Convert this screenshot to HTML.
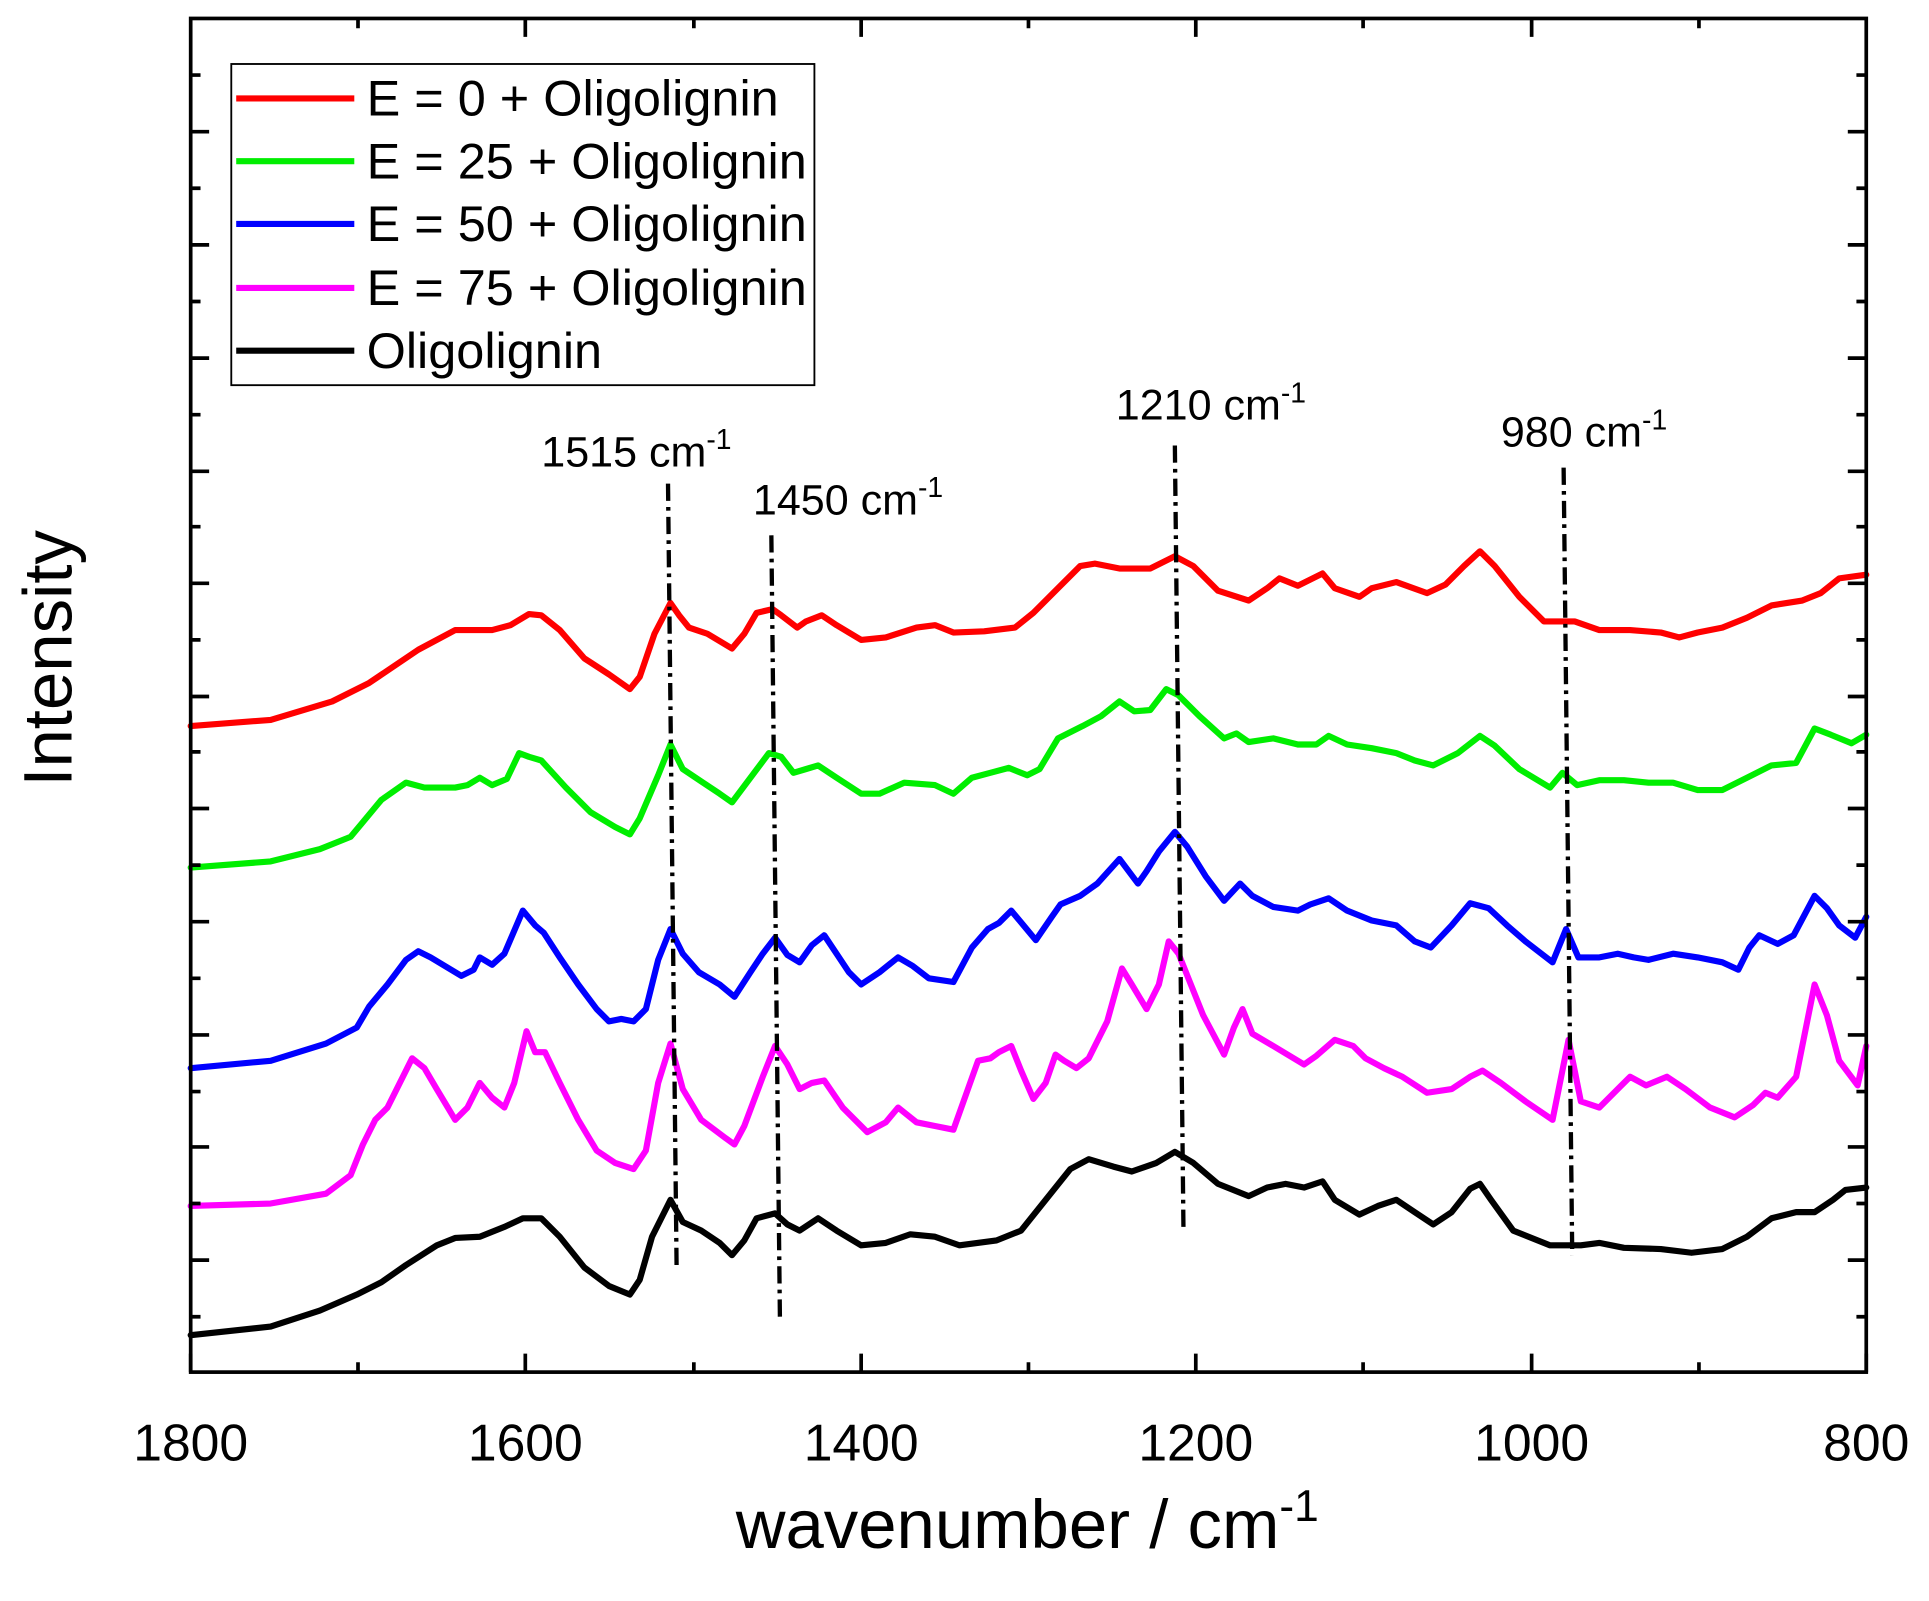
<!DOCTYPE html>
<html><head><meta charset="utf-8"><style>html,body{margin:0;padding:0;background:#fff}svg{display:block}</style></head>
<body>
<svg width="1929" height="1601" viewBox="0 0 1568 1301" preserveAspectRatio="none" xmlns="http://www.w3.org/2000/svg" font-family="'Liberation Sans', sans-serif">
<rect width="1568" height="1301" fill="#fff"/>
<g fill="none" stroke-width="5" stroke-linejoin="round" stroke-linecap="round">
<polyline stroke="#ff0000" points="155,590 220,585 270,570 300,555 340,528 370,512 400,512 415,508 430,499 440,500 455,512 475,535 495,548 512,560 520,550 532,515 545,490 552,500 560,510 575,515 595,527 605,515 615,498 628,495 635,500 648,510 655,505 668,500 680,508 700,520 720,518 745,510 760,508 775,514 800,513 825,510 840,498 860,478 878,460 890,458 910,462 935,462 955,452 970,460 990,480 1015,488 1030,478 1040,470 1055,476 1075,466 1085,478 1105,485 1115,478 1135,473 1160,482 1175,475 1190,460 1203,448 1215,460 1235,485 1255,505 1280,505 1300,512 1325,512 1350,514 1365,518 1380,514 1400,510 1420,502 1440,492 1465,488 1480,482 1495,470 1517,467"/>
<polyline stroke="#00ee00" points="155,705 220,700 260,690 285,680 295,668 310,650 330,636 345,640 370,640 380,638 390,632 400,638 412,633 422,612 430,615 440,618 460,640 480,660 500,672 512,678 520,665 535,630 545,605 555,625 570,635 585,645 595,652 610,632 625,612 635,615 645,628 655,625 665,622 680,632 700,645 715,645 735,636 760,638 775,645 790,632 805,628 820,624 835,630 845,625 860,600 880,590 895,582 910,570 922,578 935,577 948,560 958,565 975,582 995,600 1005,596 1015,603 1035,600 1055,605 1070,605 1080,598 1095,605 1115,608 1135,612 1150,618 1165,622 1185,612 1203,598 1215,606 1235,625 1260,640 1270,628 1282,638 1300,634 1320,634 1340,636 1360,636 1380,642 1400,642 1420,632 1440,622 1460,620 1475,592 1488,597 1505,604 1517,597"/>
<polyline stroke="#0000ff" points="155,868 220,862 265,848 290,835 300,818 315,800 330,780 340,773 350,778 375,793 385,788 390,778 400,784 410,775 425,740 435,752 442,758 455,778 470,800 485,820 495,830 505,828 515,830 525,820 535,780 545,755 555,775 568,790 585,800 597,810 610,790 620,775 630,762 640,776 650,782 660,768 670,760 680,775 690,790 700,800 715,790 730,778 742,785 755,795 775,798 790,770 803,755 812,750 822,740 832,752 842,764 855,745 862,735 878,728 892,718 910,698 925,718 932,708 942,692 955,676 965,688 980,712 995,732 1008,718 1018,728 1035,737 1055,740 1065,735 1080,730 1095,740 1115,748 1135,752 1150,765 1163,770 1180,752 1195,734 1210,738 1225,752 1240,765 1262,782 1273,755 1283,778 1300,778 1315,775 1328,778 1340,780 1360,775 1380,778 1400,782 1413,788 1422,770 1430,760 1445,767 1458,760 1475,728 1485,738 1495,752 1508,762 1517,745"/>
<polyline stroke="#ff00ff" points="155,980 220,978 265,970 285,955 295,930 305,910 315,900 325,880 335,860 345,868 355,885 370,910 380,900 390,880 400,892 410,900 418,880 428,838 435,855 443,855 455,880 470,910 485,935 500,945 515,950 525,935 535,880 545,848 555,885 570,910 590,925 597,930 605,915 620,875 630,850 640,865 650,885 660,880 670,878 685,900 705,920 720,912 730,900 745,912 760,915 775,918 785,890 795,862 805,860 812,855 822,850 830,870 840,893 850,880 858,857 865,862 875,868 885,860 900,830 912,787 920,800 932,820 942,800 950,765 958,775 968,800 978,825 995,857 1003,835 1010,820 1018,840 1035,850 1060,865 1070,858 1085,845 1100,850 1110,860 1125,868 1140,875 1160,888 1180,885 1195,875 1205,870 1220,880 1240,895 1262,910 1275,845 1285,895 1300,900 1315,885 1325,875 1338,882 1355,875 1370,885 1390,900 1410,908 1425,898 1435,888 1445,892 1460,875 1475,800 1485,825 1495,862 1510,882 1517,850"/>
<polyline stroke="#000000" points="155,1085 220,1078 260,1065 290,1052 310,1042 330,1028 355,1012 370,1006 390,1005 410,997 425,990 440,990 455,1005 475,1030 495,1045 512,1052 520,1040 530,1005 545,975 555,993 570,1000 585,1010 595,1020 605,1008 615,990 630,986 640,995 650,1000 665,990 680,1000 700,1012 720,1010 740,1003 760,1005 780,1012 810,1008 830,1000 850,975 870,950 885,942 905,948 920,952 940,945 955,936 970,945 990,962 1015,972 1030,965 1045,962 1060,965 1075,960 1085,975 1105,987 1120,980 1135,975 1150,985 1165,995 1180,985 1195,966 1203,962 1212,975 1230,1000 1260,1012 1285,1012 1300,1010 1320,1014 1350,1015 1375,1018 1400,1015 1420,1005 1440,990 1460,985 1475,985 1490,975 1500,967 1517,965"/>
</g>
<g stroke="#000" stroke-width="3.5" stroke-dasharray="14,5,3,5" fill="none">
<line x1="543" y1="393" x2="550" y2="1032"/>
<line x1="627" y1="435" x2="634" y2="1075"/>
<line x1="955" y1="362" x2="962" y2="1000"/>
<line x1="1271" y1="380" x2="1278" y2="1020"/>
</g>
<g font-size="35" fill="#000">
<text x="440" y="379">1515 cm<tspan font-size="23" dy="-14">-1</tspan></text>
<text x="612" y="418">1450 cm<tspan font-size="23" dy="-14">-1</tspan></text>
<text x="907" y="341">1210 cm<tspan font-size="23" dy="-14">-1</tspan></text>
<text x="1220" y="363">980 cm<tspan font-size="23" dy="-14">-1</tspan></text>
</g>
<g stroke="#000" stroke-width="3">
<rect x="155" y="15" width="1362" height="1100" fill="none"/>
<path d="M155,107h15M155,199h15M155,291h15M155,383h15M155,474h15M155,566h15M155,657h15M155,749h15M155,841h15M155,932h15M155,1024h15
M1517,107h-15M1517,199h-15M1517,291h-15M1517,383h-15M1517,474h-15M1517,566h-15M1517,657h-15M1517,749h-15M1517,841h-15M1517,932h-15M1517,1024h-15
M155,61h8M155,153h8M155,245h8M155,337h8M155,428h8M155,520h8M155,611h8M155,703h8M155,795h8M155,887h8M155,978h8M155,1070h8
M1517,61h-8M1517,153h-8M1517,245h-8M1517,337h-8M1517,428h-8M1517,520h-8M1517,611h-8M1517,703h-8M1517,795h-8M1517,887h-8M1517,978h-8M1517,1070h-8
M155,1115v-15M427,1115v-15M700,1115v-15M972,1115v-15M1245,1115v-15M1517,1115v-15
M291,1115v-8M564,1115v-8M836,1115v-8M1108,1115v-8M1381,1115v-8
M427,15v15M700,15v15M972,15v15M1245,15v15M291,15v8M564,15v8M836,15v8M1108,15v8M1381,15v8" fill="none"/>
</g>
<g font-size="42" fill="#000" text-anchor="middle">
<text x="155" y="1187">1800</text><text x="427" y="1187">1600</text><text x="700" y="1187">1400</text>
<text x="972" y="1187">1200</text><text x="1245" y="1187">1000</text><text x="1517" y="1187">800</text>
</g>
<text x="835" y="1258" font-size="56" text-anchor="middle">wavenumber / cm<tspan font-size="36" dy="-22">-1</tspan></text>
<text transform="translate(58,535) rotate(-90)" font-size="56" text-anchor="middle">Intensity</text>
<rect x="188" y="52" width="474" height="261" fill="#fff" stroke="#000" stroke-width="1.5"/>
<g stroke-width="5">
<line x1="192" y1="80" x2="288" y2="80" stroke="#ff0000"/>
<line x1="192" y1="131" x2="288" y2="131" stroke="#00ee00"/>
<line x1="192" y1="182" x2="288" y2="182" stroke="#0000ff"/>
<line x1="192" y1="234" x2="288" y2="234" stroke="#ff00ff"/>
<line x1="192" y1="285" x2="288" y2="285" stroke="#000"/>
</g>
<g font-size="41" fill="#000">
<text x="298" y="94">E = 0 + Oligolignin</text>
<text x="298" y="145">E = 25 + Oligolignin</text>
<text x="298" y="196">E = 50 + Oligolignin</text>
<text x="298" y="248">E = 75 + Oligolignin</text>
<text x="298" y="299">Oligolignin</text>
</g>
</svg>
</body></html>
